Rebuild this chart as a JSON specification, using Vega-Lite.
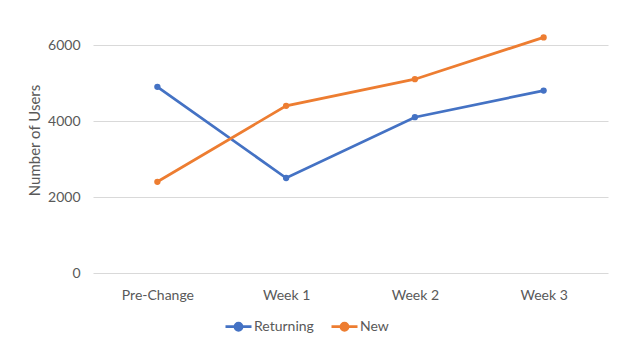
{
  "$schema": "https://vega.github.io/schema/vega-lite/v6.json",
  "autosize": {"type": "none"},
  "width": 515,
  "height": 266,
  "padding": {"left": 93, "top": 7, "right": 31, "bottom": 83},
  "background": "white",
  "config": {
    "view": {"stroke": null},
    "font": "Lato",
    "axis": {"labelFont": "Lato", "titleFont": "Lato", "labelColor": "#595959", "titleColor": "#595959", "labelFontSize": 14, "titleFontSize": 15, "titleFontWeight": "normal"},
    "legend": {"labelFont": "Lato", "labelColor": "#595959", "labelFontSize": 14}
  },
  "data": {
    "values": [
      {"period": "Pre-Change", "series": "Returning", "users": 4900},
      {"period": "Week 1", "series": "Returning", "users": 2500},
      {"period": "Week 2", "series": "Returning", "users": 4100},
      {"period": "Week 3", "series": "Returning", "users": 4800},
      {"period": "Pre-Change", "series": "New", "users": 2400},
      {"period": "Week 1", "series": "New", "users": 4400},
      {"period": "Week 2", "series": "New", "users": 5100},
      {"period": "Week 3", "series": "New", "users": 6200}
    ]
  },
  "encoding": {
    "x": {
      "field": "period", "type": "ordinal", "sort": null,
      "scale": {"type": "point", "padding": 0.5},
      "axis": {"title": null, "labelAngle": 0, "domain": false, "ticks": false, "grid": false, "labelPadding": 15}
    },
    "y": {
      "field": "users", "type": "quantitative",
      "scale": {"domain": [0, 7000], "nice": false},
      "axis": {"title": "Number of Users", "format": "d", "values": [0, 2000, 4000, 6000], "domain": false, "ticks": false, "grid": true, "gridColor": "#D9D9D9", "gridWidth": 1, "labelPadding": 13, "titlePadding": 5}
    },
    "color": {
      "field": "series", "type": "nominal",
      "scale": {"domain": ["Returning", "New"], "range": ["#4472C4", "#ED7D31"]},
      "legend": {
        "title": null, "orient": "none", "direction": "horizontal",
        "legendX": 131, "legendY": 305,
        "symbolType": "M-1,0H1M0.27,0A0.27,0.27 0 1,1 -0.27,0A0.27,0.27 0 1,1 0.27,0",
        "symbolSize": 676, "symbolStrokeWidth": 2.75,
        "labelOffset": 1, "columnPadding": 12,
        "encode": {"symbols": {"update": {"fill": {"scale": "color", "field": "value"}}}}
      }
    }
  },
  "layer": [
    {"mark": {"type": "line", "strokeWidth": 2.75}},
    {"mark": {"type": "point", "filled": true, "size": 40, "opacity": 1}}
  ]
}
